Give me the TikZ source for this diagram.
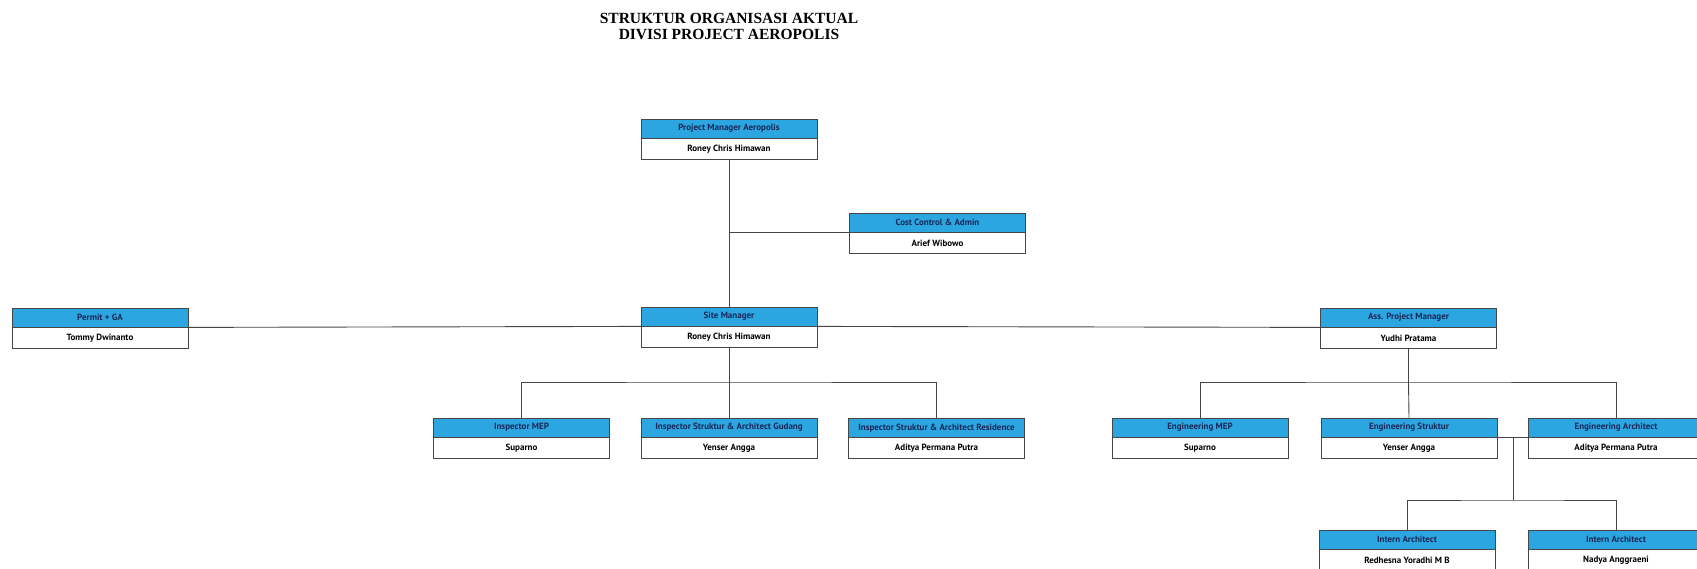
\documentclass[tikz,border=0pt]{standalone}
\usepackage{fontspec}
\setmainfont{PT Sans}
\newfontfamily\titlefont{Liberation Serif}
\usetikzlibrary{positioning}
\definecolor{headblue}{RGB}{44,166,224}
\definecolor{headtext}{RGB}{25,40,90}
\definecolor{linegray}{RGB}{70,70,70}

\begin{document}
\begin{tikzpicture}[x=1pt,y=-1pt,
	every text node part/.style={align=center},
	headbox/.style={draw=linegray,fill=headblue,text=headtext,font=\bfseries\fontsize{9}{10}\selectfont,minimum width=176pt,minimum height=19pt,inner sep=0pt,anchor=north},
	namebox/.style={draw=linegray,fill=white,text=black,font=\bfseries\fontsize{9}{10}\selectfont,minimum width=176pt,minimum height=21pt,inner sep=0pt,below=0pt of #1},
	conn/.style={draw=linegray,line width=0.9pt}]
			\clip[use as bounding box] (0,0) rectangle (1697,569);
			\fill[white] (0,0) rectangle (1697,569);
			% title
			\node[font=\titlefont\bfseries\fontsize{15.5}{16}\selectfont] (title) at (729,26) {STRUKTUR ORGANISASI AKTUAL\\DIVISI PROJECT AEROPOLIS};
			% boxes
			\node[headbox] (pm) at (729,119) {Project Manager Aeropolis};
			\node[namebox=pm] (pmn) {Roney Chris Himawan};
			\node[headbox] (cost) at (937.5,213) {Cost Control \& Admin};
			\node[namebox=cost] (costn) {Arief Wibowo};
			\node[headbox] (permit) at (100,308) {Permit + GA};
			\node[namebox=permit] (permitn) {Tommy Dwinanto};
			\node[headbox] (site) at (729,307) {Site Manager};
			\node[namebox=site] (siten) {Roney Chris Himawan};
			\node[headbox] (ass) at (1408.5,308) {Ass. Project Manager};
			\node[namebox=ass] (assn) {Yudhi Pratama};
			\node[headbox] (inspmep) at (521.5,418) {Inspector MEP};
			\node[namebox=inspmep] (inspmepn) {Suparno};
			\node[headbox] (inspgud) at (729,418) {Inspector Struktur \& Architect Gudang};
			\node[namebox=inspgud] (inspgudn) {Yenser Angga};
			\node[headbox] (inspres) at (936.5,418) {Inspector Struktur \& Architect Residence};
			\node[namebox=inspres] (inspresn) {Aditya Permana Putra};
			\node[headbox] (engmep) at (1200,418) {Engineering MEP};
			\node[namebox=engmep] (engmepn) {Suparno};
			\node[headbox] (engstr) at (1409,418) {Engineering Struktur};
			\node[namebox=engstr] (engstrn) {Yenser Angga};
			\node[headbox] (engarc) at (1616,418) {Engineering Architect};
			\node[namebox=engarc] (engarcn) {Aditya Permana Putra};
			\node[headbox] (intern1) at (1407,530) {Intern Architect};
			\node[namebox=intern1] (intern1n) {Redhesna Yoradhi M B};
			\node[headbox] (intern2) at (1616,530) {Intern Architect};
			\node[namebox=intern2] (intern2n) {Nadya Anggraeni};
			% lines
			\coordinate (sitebus) at (729,382);
			\coordinate (assbus) at (1408.5,382);
			\coordinate (intjoin) at (1513,437);
			\coordinate (internbus) at (1513,500);
			\draw[conn] (pmn.south) -- (site.north);
			\draw[conn] (cost.south west) -- (cost.south west -| site.north);
			\draw[conn] (permit.south east) -- (site.south west);
			\draw[conn] (site.south east) -- (ass.south west);
			\draw[conn] (siten.south) -- (sitebus);
			\draw[conn] (inspmep.north) |- (sitebus) -| (inspres.north);
			\draw[conn] (sitebus) -- (inspgud.north);
			\draw[conn] (assn.south) -- (assbus);
			\draw[conn] (engmep.north) |- (assbus) -| (engarc.north);
			\draw[conn] (assbus) -- (engstr.north);
			\draw[conn] (engstr.south east) -- (engarc.south west);
			\draw[conn] (intjoin) -- (internbus);
			\draw[conn] (intern1.north) |- (internbus) -| (intern2.north);
		\end{tikzpicture}
\end{document}
